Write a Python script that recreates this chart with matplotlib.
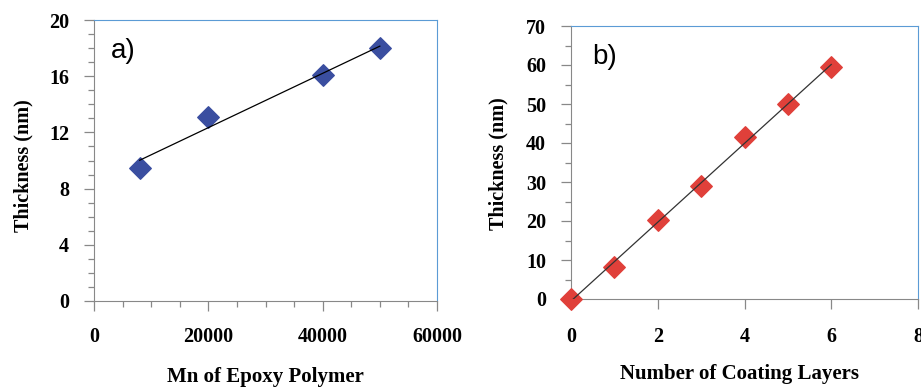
import numpy as np
import matplotlib
matplotlib.use("Agg")
import matplotlib.pyplot as plt
from matplotlib.ticker import MultipleLocator

# panel a
mn_polimero = [8000, 20000, 40000, 50000]
espesor_a = [9.5, 13.1, 16.1, 18.0]

# panel b
capas = [0, 1, 2, 3, 4, 5, 6]
espesor_b = [0, 8.3, 20.3, 29.0, 41.5, 50.0, 59.5]

AZUL = "#3a4ea0"
ROJO = "#e0403a"
BORDE = "#5b9bd5"
GRIS = "#888888"

serif = "Liberation Serif"


def estilo(ax):
    for lado in ("left", "bottom"):
        ax.spines[lado].set_color(GRIS)
    for lado in ("top", "right"):
        ax.spines[lado].set_color(BORDE)
    ax.tick_params(which="both", direction="out", color=GRIS)
    ax.tick_params(which="major", length=7, width=0.9)
    ax.tick_params(which="minor", length=4, width=0.9)
    for lab in ax.get_xticklabels() + ax.get_yticklabels():
        lab.set_family(serif)
        lab.set_fontsize(14.5)
        lab.set_fontweight("bold")


fig = plt.figure(figsize=(9.21, 3.88), dpi=100)

# a)
ax1 = fig.add_axes([94 / 921, 1 - 301 / 388, 343 / 921, 281 / 388])
ax1.scatter(mn_polimero, espesor_a, marker="D", s=120, color=AZUL,
            zorder=3, clip_on=False)
m, b = np.polyfit(mn_polimero, espesor_a, 1)
xs = np.array([min(mn_polimero), max(mn_polimero)])
ax1.plot(xs, m * xs + b, color="black", lw=0.9, zorder=4)
ax1.set_xlim(0, 60000)
ax1.set_ylim(0, 20)
ax1.set_xticks([0, 20000, 40000, 60000])
ax1.set_yticks([0, 4, 8, 12, 16, 20])
ax1.xaxis.set_minor_locator(MultipleLocator(5000))
ax1.yaxis.set_minor_locator(MultipleLocator(1))
ax1.tick_params(axis="x", which="both", length=5)
ax1.tick_params(axis="x", pad=12)
ax1.tick_params(axis="y", pad=11)
estilo(ax1)
ax1.set_xlabel("Mn of Epoxy Polymer", family=serif, fontsize=15,
               fontweight="bold", va="center")
ax1.xaxis.set_label_coords(0.5, -0.27)
ax1.set_ylabel("Thickness (nm)", family=serif, fontsize=14.5,
               fontweight="bold", va="center")
ax1.yaxis.set_label_coords(-0.207, 0.48)
ax1.text(0.05, 0.89, "a)", transform=ax1.transAxes, family="Liberation Sans",
         fontsize=20, va="center")

# b)
ax2 = fig.add_axes([571 / 921, 1 - 299 / 388, 347 / 921, 273 / 388])
ax2.scatter(capas, espesor_b, marker="D", s=120, color=ROJO,
            zorder=3, clip_on=False)
m2, b2 = np.polyfit(capas, espesor_b, 1)
xs2 = np.array([min(capas), max(capas)])
ax2.plot(xs2, m2 * xs2 + b2, color="#333333", lw=0.9, zorder=4)
ax2.set_xlim(0, 8)
ax2.set_ylim(0, 70)
ax2.set_xticks([0, 2, 4, 6, 8])
ax2.set_yticks(range(0, 71, 10))
ax2.yaxis.set_minor_locator(MultipleLocator(5))
ax2.tick_params(axis="x", which="both", length=6)
ax2.tick_params(axis="x", pad=13)
ax2.tick_params(axis="y", pad=11)
estilo(ax2)
ax2.set_xlabel("Number of Coating Layers", family=serif, fontsize=15,
               fontweight="bold", va="center")
ax2.xaxis.set_label_coords(0.487, -0.275)
ax2.set_ylabel("Thickness (nm)", family=serif, fontsize=14.5,
               fontweight="bold", va="center")
ax2.yaxis.set_label_coords(-0.21, 0.496)
ax2.text(0.06, 0.886, "b)", transform=ax2.transAxes, family="Liberation Sans",
         fontsize=20, va="center")

fig.savefig("out.png", dpi=100)
